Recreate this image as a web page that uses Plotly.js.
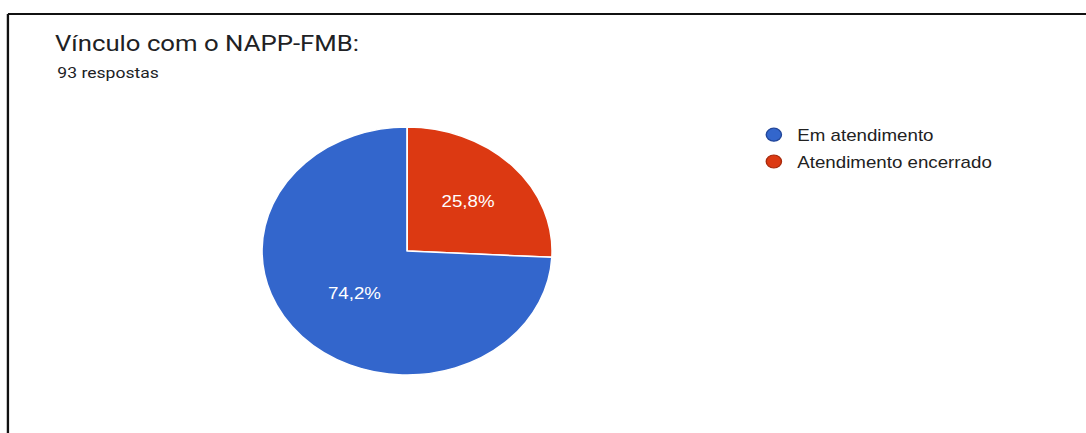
<!DOCTYPE html>
<html>
<head>
<meta charset="utf-8">
<script src="https://cdn.plot.ly/plotly-3.0.1.min.js"></script>
<style>
  html, body { margin: 0; padding: 0; background: #ffffff; overflow: hidden; }
  #wrap { width: 1086px; height: 433px; overflow: hidden; }
  #chart { width: 928px; height: 433px; transform: scaleX(1.1703); transform-origin: 0 0; }
</style>
</head>
<body>
<div id="wrap"><div id="chart"></div></div>
<script>
// ---- data ----
const chartTitle = 'Vínculo com o NAPP-FMB:';
const responsesText = '93 respostas';
const categories = ['Em atendimento', 'Atendimento encerrado'];
const counts = [69, 24];            // 93 respostas -> 74,2% / 25,8%
const sliceColors = ['#3366CC', '#DC3912'];
const edgeColors = ['#23479a', '#a82a0c'];

// pie drawn clockwise from 12 o'clock, last category first (as in the reference)
const pieOrder = categories.map((_, i) => i).reverse();

const pie = {
  type: 'pie',
  labels: pieOrder.map(i => categories[i]),
  values: pieOrder.map(i => counts[i]),
  sort: false,
  direction: 'clockwise',
  rotation: 0,
  marker: { colors: pieOrder.map(i => sliceColors[i]), line: { color: '#ffffff', width: 1.5 } },
  texttemplate: '%{percent:.1%}',
  textposition: 'inside',
  insidetextorientation: 'horizontal',
  insidetextfont: { color: '#ffffff', size: 16, family: 'Liberation Sans, Arial, sans-serif' },
  hoverinfo: 'label+percent',
  showlegend: false,
  domain: { x: [0.2412, 0.5084], y: [0.1339, 0.7067] }
};

const legendTraces = categories.map((name, i) => ({
  type: 'scatter',
  mode: 'markers',
  x: [null], y: [null],
  name: name,
  legendgroup: 'g' + i,
  marker: { symbol: 'circle', size: 13, color: sliceColors[i], line: { color: edgeColors[i], width: 1.2 } },
  hoverinfo: 'skip'
}));

const layout = {
  width: 928, height: 433,
  margin: { l: 0, r: 0, t: 0, b: 0 },
  paper_bgcolor: '#ffffff',
  plot_bgcolor: '#ffffff',
  separators: ',.',
  xaxis: { visible: false },
  yaxis: { visible: false },
  title: {
    text: chartTitle,
    x: 0.0506, xanchor: 'left', xref: 'paper',
    y: 0.917, yanchor: 'top', yref: 'paper',
    font: { family: 'Roboto, Open Sans, sans-serif', size: 22, color: '#202124' }
  },
  annotations: [{
    text: responsesText,
    xref: 'paper', yref: 'paper',
    x: 0.0506, xanchor: 'left',
    y: 0.856, yanchor: 'top',
    showarrow: false,
    font: { family: 'Roboto, Open Sans, sans-serif', size: 15, color: '#202124' }
  }],
  showlegend: true,
  legend: {
    x: 0.691, xanchor: 'left',
    y: 0.728, yanchor: 'top',
    bgcolor: 'rgba(0,0,0,0)',
    font: { family: 'Liberation Sans, Arial, sans-serif', size: 16, color: '#222222' },
    tracegroupgap: 3,
    itemclick: false
  },
  shapes: [
    { type: 'line', xref: 'paper', yref: 'paper', x0: 0.0073, x1: 1, y0: 0.9677, y1: 0.9677,
      line: { color: '#111111', width: 2 } },
    { type: 'line', xref: 'paper', yref: 'paper', x0: 0.0073, x1: 0.0073, y0: 0.9677, y1: 0,
      line: { color: '#111111', width: 2 } }
  ]
};

Plotly.newPlot('chart', [pie].concat(legendTraces), layout, { displayModeBar: false, staticPlot: true });
</script>
</body>
</html>
